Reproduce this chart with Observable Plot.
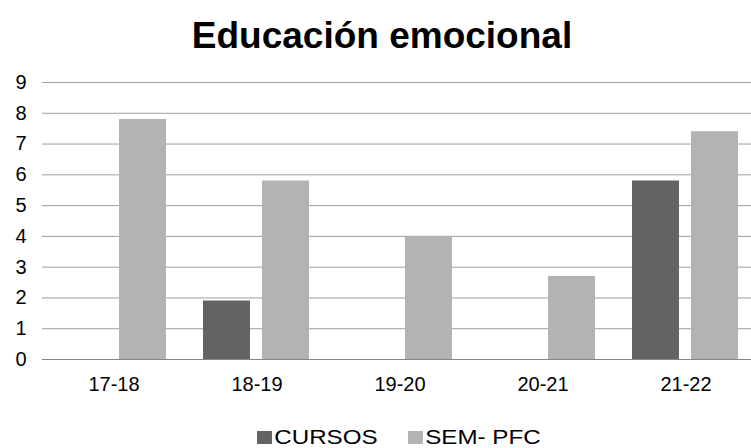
<!DOCTYPE html>
<html>
<head>
<meta charset="utf-8">
<script src="https://cdn.jsdelivr.net/npm/d3@7"></script>
<script src="https://cdn.jsdelivr.net/npm/@observablehq/plot@0.6"></script>
<style>
  body { margin: 0; background: #fff; width: 751px; height: 448px; overflow: hidden; }
  #title { height: 65px; position: relative; }
  #title span { position: absolute; left: 382px; top: 16px; font-family: "Liberation Sans", Arial, sans-serif; font-weight: bold; font-size: 37px; line-height: 40px; white-space: nowrap; transform: translateX(-50%); color: #000; }
  #chart svg { display: block; }
  #legend { position: relative; height: 43px; }
  .item { position: absolute; top: 23px; font-family: "Liberation Sans", Arial, sans-serif; font-size: 21px; line-height: 18px; white-space: nowrap; transform-origin: 0 0; transform: scaleX(1.15); color: #000; }
  .sw { display: inline-block; width: 13px; height: 13px; margin-right: 2px; vertical-align: 0px; }
</style>
</head>
<body>
<div id="title"><span>Educación emocional</span></div>
<div id="chart"></div>
<div id="legend"></div>
<script>
const categories = ["17-18", "18-19", "19-20", "20-21", "21-22"];
const seriesNames = ["CURSOS", "SEM- PFC"];
const cursos = [0, 1.9, 0, 0, 5.8];
const semPfc = [7.8, 5.8, 4.0, 2.7, 7.4];
const yTicks = [0, 1, 2, 3, 4, 5, 6, 7, 8, 9];
const colors = ["#636363", "#b3b3b3"];

const data = [];
categories.forEach((c, i) => {
  data.push({cat: c, series: seriesNames[0], value: cursos[i]});
  data.push({cat: c, series: seriesNames[1], value: semPfc[i]});
});

const chart = Plot.plot({
  width: 751,
  height: 340,
  marginLeft: 42,
  marginRight: -6,
  marginTop: 17,
  marginBottom: 46,
  style: {fontFamily: "Liberation Sans, Arial, sans-serif", fontSize: "20px", color: "#000", background: "#fff"},
  fx: {domain: categories, padding: 0, label: null, axis: "bottom", tickSize: 0, tickPadding: 17},
  x: {domain: seriesNames, paddingInner: 0.2, paddingOuter: 0.3, axis: null},
  y: {domain: [0, 9], ticks: yTicks, label: null, tickSize: 0, tickPadding: 16},
  color: {domain: seriesNames, range: colors},
  marks: [
    Plot.ruleY(yTicks.filter(d => d > 0), {stroke: "#9e9e9e", strokeWidth: 1, strokeOpacity: 1}),
    Plot.barY(data.filter(d => d.value > 0), {fx: "cat", x: "series", y: "value", fill: "series"}),
    Plot.ruleY([0], {stroke: "#858585", strokeWidth: 1})
  ]
});
document.getElementById("chart").appendChild(chart);

const legend = document.getElementById("legend");
const positions = [257, 408];
seriesNames.forEach((s, i) => {
  const el = document.createElement("div");
  el.className = "item";
  el.style.left = positions[i] + "px";
  el.innerHTML = `<span class="sw" style="background:${colors[i]}"></span>${s}`;
  legend.appendChild(el);
});
</script>
</body>
</html>
